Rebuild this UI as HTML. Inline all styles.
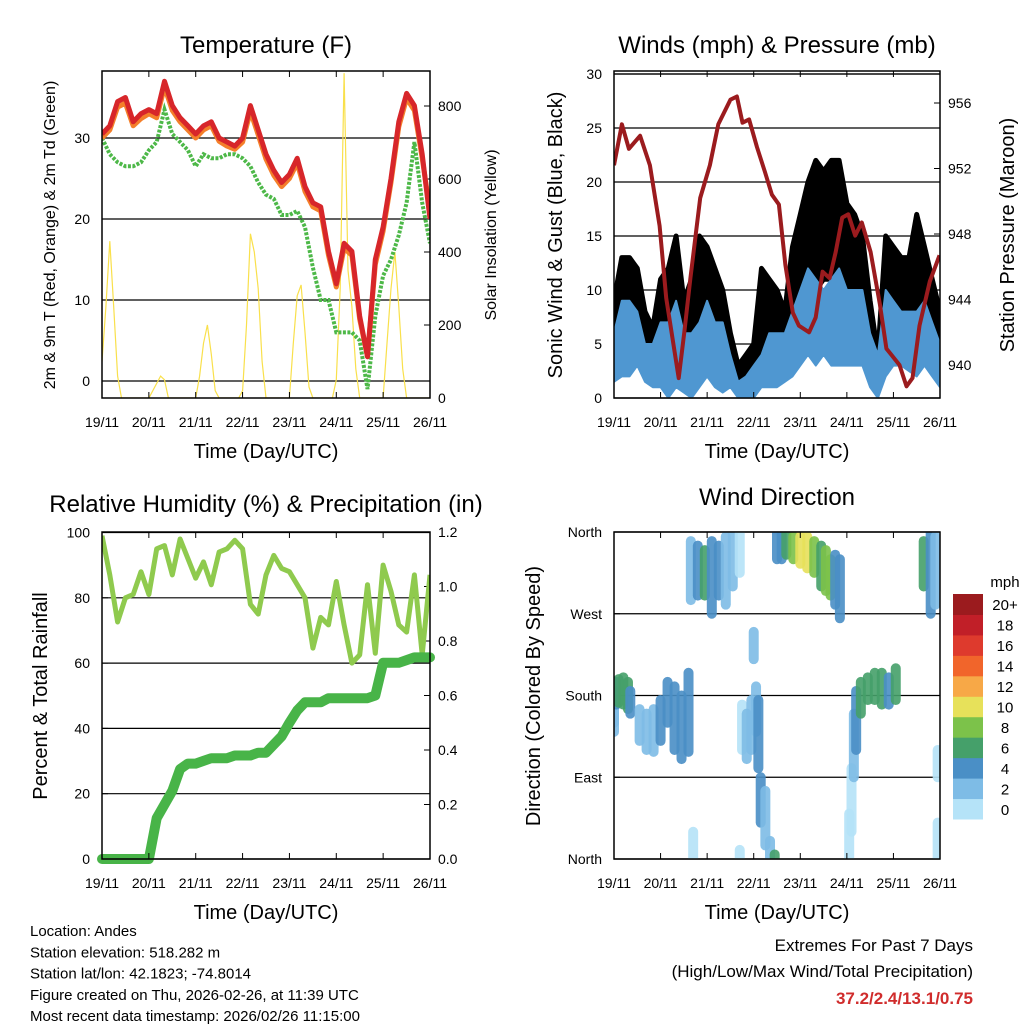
<!DOCTYPE html>
<html><head><meta charset="utf-8"><style>
html,body{margin:0;padding:0;background:#fff}
svg{display:block;font-family:"Liberation Sans",Arial,sans-serif}
</style></head><body>
<svg id="chart" width="1024" height="1024" viewBox="0 0 1024 1024"></svg>
<script>
// ---------- DATA (4-hour steps, index k -> day k/6) ----------
const dayLabels = ["19/11","20/11","21/11","22/11","23/11","24/11","25/11","26/11"];
const temp2m = [30.5,31.5,34.5,35,32,33,33.5,33,37,34,32.5,31.5,30.5,31.5,32,30,29.5,29,30,34,31,28,26,24.5,25.5,27.5,24,22,21.5,16,12,17,16,8,3,15,19,25,32,35.5,34,28,20];
const temp9m = [30,31,33.8,34.3,31.5,32.4,33,32.5,36.3,33.4,32,31,30,31,31.5,29.6,29,28.6,29.5,33.3,30.4,27.4,25.4,24,25,26.9,23.4,21.5,21,15.5,11.6,16.4,15.5,7.6,3,14.4,18.5,24.5,31.4,34.9,33.4,27.5,21];
const dewpt = [30,28,27,26.5,26.5,27,28.5,29.5,33.5,30.5,29.5,28.5,26.5,28,27.5,27.5,28,28,27.5,26.5,24.5,23,22.5,20.5,20.5,21,19,14,10,10,6,6,6,5,-1,8,13,15,18,22,29.5,22,17];
// solar: 2-hour steps, index j -> day j/12
const solar = [100,250,430,250,60,0,0,0,0,0,0,0,
 0,20,40,60,50,0,0,0,0,0,0,0,
 0,60,150,200,120,20,0,0,0,0,0,0,
 20,200,450,400,300,100,0,0,0,0,0,0,
 0,150,280,310,180,30,0,0,0,0,0,0,
 50,300,890,350,250,80,0,0,0,0,0,0,
 0,150,300,400,250,80,0,0,0,0,0,0,0];
const windHi = [6,9,9,8,5,5,7,7,9,6,6,7,9,7,7,4,1.5,2,3,4,6,6,6,8,10,12,11,10,11,12,10,10,10,6,4,10,9,8,8,8,9,7,5];
const windLo = [1.5,2,2,3,1.5,1,1,0,1,0.5,0,1,2,1,0.5,1,0,0,0,1,1,1,1.5,2,3,4,3,4,3,3,3,3,3,1,0,2,3,3,2.5,2,3,2,1];
const gustHi = [9,13,13,12,8,6.5,11,12,15,9,11,15,14,12,10,6,3,4,5,12,11,10,8,14,17,20,22,21,22,22,18,17,15,9,4,15,14,13,13,17,14,11,8];
const gustLo = [3,5,6,7,4,3,5,5,6,5,5,7,6,7,6,4,1,1,2,4,5,5,4,6,8,10,10,11,11,10,10,9,8,5,1.5,8,7,8,7,7,6,5,4];
const presT = [0,0.17,0.32,0.56,0.77,0.98,1.12,1.39,1.51,1.64,1.85,2.06,2.24,2.5,2.64,2.76,2.9,3.07,3.24,3.39,3.54,3.68,3.84,3.97,4.19,4.33,4.48,4.63,4.76,4.9,5.03,5.18,5.32,5.51,5.71,5.85,6.13,6.28,6.41,6.56,6.78,6.99];
const presV = [952.2,954.7,953.2,954,952.2,948.5,944.1,939.2,942,945.3,950.2,952.2,954.7,956.2,956.4,954.8,955,953.3,951.8,950.4,949.8,946.1,943.2,942.4,942,942.9,945.7,945.3,946.9,949,949.2,947.9,948.7,946.9,943.7,941,940,938.7,939.2,942.4,945.1,946.7];
const rh = [99,87,72.6,80,81,88,81,95,96,87,98,92,86,91,84,94,95,97.6,95,78,75,87,93,89,88,84,80,64.6,74,71.7,85,71.7,60,62.5,84,63,90,82,71.7,69.5,87,62.5,87];
const precip = [0,0,0,0,0,0,0,0.15,0.2,0.25,0.33,0.35,0.35,0.36,0.37,0.37,0.37,0.38,0.38,0.38,0.39,0.39,0.42,0.45,0.5,0.545,0.575,0.575,0.575,0.59,0.59,0.59,0.59,0.59,0.59,0.6,0.72,0.72,0.72,0.73,0.74,0.74,0.74];
// wind direction clusters: time (day), direction low/high (deg), speed (mph)
const dirT  = [0.0,0.0,0.05,0.1,0.2,0.3,0.35,0.55,0.7,0.85,1.0,1.15,1.3,1.45,1.6,1.65,1.8,1.95,2.1,2.25,2.4,2.55,2.7,1.7,2.7,2.75,2.85,2.95,3.0,3.05,3.1,3.15,3.25,3.35,3.45,3.5,3.6,3.7,3.85,4.0,4.15,4.3,4.45,4.55,4.65,4.75,4.85,5.05,5.1,5.15,5.2,5.3,5.45,5.6,5.75,5.9,6.05,6.65,6.8,6.9,6.95,6.95];
const dirLo = [150,140,170,172,170,165,160,130,120,118,130,150,120,110,118,285,290,290,270,290,280,300,315,0,0,120,110,120,220,140,100,40,15,0,0,330,330,335,330,325,320,315,300,295,290,280,265,0,30,90,120,160,175,175,170,170,175,300,270,280,0,90];
const dirHi = [185,165,195,198,200,195,185,165,160,165,175,195,190,180,205,350,345,340,350,345,355,360,360,30,10,170,160,175,250,190,175,90,75,20,5,360,360,360,355,355,355,350,345,340,330,335,330,50,100,160,185,195,200,205,205,200,210,350,360,355,40,120];
const dirSpd = [3,2,5,7,7,6,4,3,2,2,4,5,4,4,4,3,5,6,5,4,3,2,1,1,1,1,2,2,2,3,4,4,3,2,6,4,5,6,9,10,10,9,7,9,8,5,4,1,1,2,5,6,7,6,6,5,6,6,4,3,1,1];
const cbLabels = ["0","2","4","6","8","10","12","14","16","18","20+"];
const cbColors = ["#b5e3f8","#7ebce6","#4a8fc6","#45a06a","#7cc24a","#e7e15a","#f7a847","#f1652b","#de3a2d","#c11f28","#9b1b1e"];

// ---------- helpers ----------
const NS="http://www.w3.org/2000/svg";
const svg=document.getElementById('chart');
function el(tag,attrs,parent,text){const e=document.createElementNS(NS,tag);for(const k in attrs)e.setAttribute(k,attrs[k]);if(text!==undefined)e.textContent=text;(parent||svg).appendChild(e);return e;}
function lin(d0,d1,r0,r1){return v=>r0+(v-d0)/(d1-d0)*(r1-r0);}
function pathFrom(xs,ys){return xs.map((x,i)=>(i?'L':'M')+x.toFixed(1)+','+ys[i].toFixed(1)).join('');}

function panel(name,L,R,T,B){
  const g=el('g',{},svg);
  
  
  return {g,L,R,T,B,x:lin(0,7,L,R)};
}
function frame(p){
  const r=el('rect',{x:p.L,y:p.T,width:p.R-p.L,height:p.B-p.T,fill:'none',stroke:'#000','stroke-width':1.5},p.g);
  
  
}
function xAxis(p,labelY,titleY){
  const g=el('g',{},p.g);
  
  
  dayLabels.forEach((d,i)=>{
    const x=p.x(i);
    el('line',{x1:x,x2:x,y1:p.B,y2:p.B-6,stroke:'#000','stroke-width':1},g);
    el('line',{x1:x,x2:x,y1:p.T,y2:p.T+6,stroke:'#000','stroke-width':1},g);
    const t=el('text',{x:x,y:labelY,'font-size':14,'text-anchor':'middle'},g,d);
    
    
  });
  const tt=el('text',{x:(p.L+p.R)/2,y:titleY,'font-size':20,'text-anchor':'middle'},g,'Time (Day/UTC)');
  
  
}
function yTicks(p,vals,labels,scale,side,grid,nameTag){
  const g=el('g',{},p.g);
  
  
  vals.forEach((v,i)=>{
    const y=scale(v);
    if(grid) el('line',{x1:p.L,x2:p.R,y1:y,y2:y,stroke:'#000','stroke-width':1.2},g);
    if(side==='left'){
      el('line',{x1:p.L,x2:p.L+6,y1:y,y2:y,stroke:'#000'},g);
      const t=el('text',{x:p.L-12,y:y+5,'font-size':14,'text-anchor':'end'},g,labels[i]);
      
      
    } else {
      el('line',{x1:p.R,x2:p.R-6,y1:y,y2:y,stroke:'#000'},g);
      const t=el('text',{x:p.R+8,y:y+5,'font-size':14,'text-anchor':'start'},g,labels[i]);
      
      
    }
  });
}
function title(p,txt,y,name){const t=el('text',{x:(p.L+p.R)/2,y:y,'font-size':24,'text-anchor':'middle'},p.g,txt);}
function vTitle(x,y,txt,size,name,g){const t=el('text',{x:x,y:y,'font-size':size,'text-anchor':'middle',transform:`rotate(-90 ${x} ${y})`},g||svg,txt);}
function clip(p,id){const d=el('clipPath',{id:id},p.g);el('rect',{x:p.L,y:p.T,width:p.R-p.L,height:p.B-p.T},d);const g=el('g',{'clip-path':`url(#${id})`},p.g);return g;}

// ---------- Panel 1: temperature ----------
{
const p=panel('temperature-panel',102,430,71,398);
const yT=lin(0,10,381,300), yS=lin(0,200,398,325);
title(p,'Temperature (F)',53,'temperature-title');
yTicks(p,[0,10,20,30],['0','10','20','30'],yT,'left',true,'temperature-y-axis');
yTicks(p,[0,200,400,600,800],['0','200','400','600','800'],yS,'right',false,'solar-y-axis');
const g=clip(p,'c1');
const tk=temp2m.map((_,k)=>p.x(k/6));
const sx=solar.map((_,j)=>p.x(j/12));
const s=el('path',{d:pathFrom(sx,solar.map(yS)),fill:'none',stroke:'#f9e04b','stroke-width':1.2},g);

const d=el('path',{d:pathFrom(tk,dewpt.map(yT)),fill:'none',stroke:'#4db848','stroke-width':4,'stroke-dasharray':'3 1.5'},g);

const o=el('path',{d:pathFrom(tk,temp9m.map(yT)),fill:'none',stroke:'#f47f2a','stroke-width':5,'stroke-linejoin':'round'},g);

const r=el('path',{d:pathFrom(tk,temp2m.map(yT)),fill:'none',stroke:'#d7262a','stroke-width':5,'stroke-linejoin':'round'},g);

frame(p);
xAxis(p,427,458);
vTitle(55,235,'2m & 9m T (Red, Orange) & 2m Td (Green)',16,'temperature-y-title');
vTitle(496,235,'Solar Insolation (Yellow)',16,'solar-y-title');
}
// ---------- Panel 2: winds ----------
{
const p=panel('winds-panel',614,940,71,398);
const yW=lin(0,5,398,344), yP=lin(940,956,365,103);
title(p,'Winds (mph) & Pressure (mb)',53,'winds-title');
el('line',{x1:614,x2:940,y1:74,y2:74,stroke:'#000','stroke-width':1.2},p.g);
yTicks(p,[0,5,10,15,20,25,30],['0','5','10','15','20','25','30'],yW,'left',true,'wind-y-axis');
yTicks(p,[940,944,948,952,956],['940','944','948','952','956'],yP,'right',false,'pressure-y-axis');
const g=clip(p,'c2');
const tk=gustHi.map((_,k)=>p.x(k/6));
const gb=el('path',{d:pathFrom(tk,gustHi.map(yW))+pathFrom(tk.slice().reverse(),gustLo.slice().reverse().map(yW)).replace('M','L')+'Z',fill:'#000',stroke:'#000','stroke-width':5,'stroke-linejoin':'round'},g);

const wb=el('path',{d:pathFrom(tk,windHi.map(yW))+pathFrom(tk.slice().reverse(),windLo.slice().reverse().map(yW)).replace('M','L')+'Z',fill:'#4f97d1',stroke:'#4f97d1','stroke-width':2,'stroke-linejoin':'round'},g);

const pr=el('path',{d:pathFrom(presT.map(p.x),presV.map(yP)),fill:'none',stroke:'#9b1b1e','stroke-width':4,'stroke-linejoin':'round'},g);

frame(p);
xAxis(p,427,458);
vTitle(562,235,'Sonic Wind & Gust (Blue, Black)',20,'wind-y-title');
vTitle(1014,235,'Station Pressure (Maroon)',20,'pressure-y-title');
}
// ---------- Panel 3: RH & precip ----------
{
const p=panel('humidity-panel',102,430,532,859);
const yR=lin(0,100,859,532.5), yQ=lin(0,1.2,859,532);
title(p,'Relative Humidity (%) & Precipitation (in)',512,'humidity-title');
yTicks(p,[0,20,40,60,80,100],['0','20','40','60','80','100'],yR,'left',true,'humidity-y-axis');
yTicks(p,[0,0.2,0.4,0.6,0.8,1.0,1.2],['0.0','0.2','0.4','0.6','0.8','1.0','1.2'],yQ,'right',false,'precip-y-axis');
const g=clip(p,'c3');
const tk=rh.map((_,k)=>p.x(k/6));
const a=el('path',{d:pathFrom(tk,rh.map(yR)),fill:'none',stroke:'#8fca4e','stroke-width':5,'stroke-linejoin':'round'},g);

const b=el('path',{d:pathFrom(tk,precip.map(yQ)),fill:'none',stroke:'#48b448','stroke-width':10,'stroke-linejoin':'round','stroke-linecap':'round'},p.g);

frame(p);
xAxis(p,888,919);
vTitle(47,696,'Percent & Total Rainfall',20,'humidity-y-title');
}
// ---------- Panel 4: wind direction ----------
{
const p=panel('wind-direction-panel',614,940,532,859);
const yD=lin(0,360,859,532);
title(p,'Wind Direction',505,'wind-direction-title');
yTicks(p,[0,90,180,270,360],['North','East','South','West','North'],yD,'left',true,'direction-y-axis');
const g=clip(p,'c4');
dirT.forEach((t,i)=>{
  const c=cbColors[Math.min(10,Math.floor(dirSpd[i]/2))];
  const ln=el('line',{x1:p.x(t),x2:p.x(t),y1:yD(dirLo[i]),y2:yD(dirHi[i]),stroke:c,'stroke-width':10,'stroke-linecap':'round',opacity:0.9},g);
  
  
});
frame(p);
xAxis(p,888,919);
vTitle(540,696,'Direction (Colored By Speed)',20,'direction-y-title');
// colorbar
const cb=el('g',{},svg);


const bh=(819-594)/11;
cbColors.forEach((c,i)=>{
  const y=819-(i+1)*bh;
  const r=el('rect',{x:953,y:y,width:30,height:bh+0.5,fill:c},cb);
  
  const t=el('text',{x:1005,y:y+bh/2+6,'font-size':15,'text-anchor':'middle'},cb,cbLabels[i]);
  
});
const m=el('text',{x:1005,y:587,'font-size':15,'text-anchor':'middle'},cb,'mph');

}
// ---------- footer text ----------
const info=["Location: Andes","Station elevation: 518.282 m","Station lat/lon: 42.1823; -74.8014","Figure created on Thu, 2026-02-26, at 11:39 UTC","Most recent data timestamp: 2026/02/26 11:15:00"];
info.forEach((s,i)=>{const t=el('text',{x:30,y:936+i*21.3,'font-size':15},svg,s);});
{
const t1=el('text',{x:973,y:951,'font-size':17,'text-anchor':'end'},svg,'Extremes For Past 7 Days');

const t2=el('text',{x:973,y:977,'font-size':17,'text-anchor':'end'},svg,'(High/Low/Max Wind/Total Precipitation)');

const t3=el('text',{x:973,y:1004,'font-size':17,'text-anchor':'end','font-weight':'bold',fill:'#d02c2c'},svg,'37.2/2.4/13.1/0.75');

}
</script>
</body></html>
